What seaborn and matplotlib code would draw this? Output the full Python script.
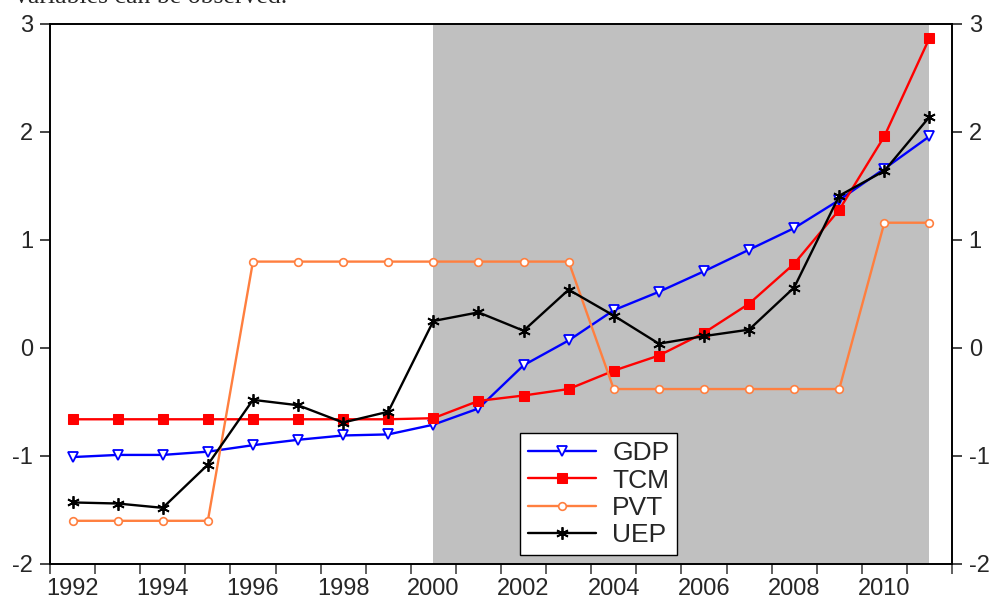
import pandas as pd
import seaborn as sns
import matplotlib.pyplot as plt
from matplotlib.ticker import FixedLocator

# Standardised series, annual 1992-2011
years = list(range(1992, 2012))
gdp = [-1.01, -0.99, -0.99, -0.96, -0.90, -0.85, -0.81, -0.80, -0.71, -0.56,
       -0.16, 0.07, 0.35, 0.52, 0.71, 0.91, 1.11, 1.37, 1.66, 1.96]
tcm = [-0.66, -0.66, -0.66, -0.66, -0.66, -0.66, -0.66, -0.66, -0.65, -0.49,
       -0.44, -0.38, -0.21, -0.07, 0.14, 0.41, 0.78, 1.28, 1.96, 2.87]
pvt = [-1.60, -1.60, -1.60, -1.60, 0.80, 0.80, 0.80, 0.80, 0.80, 0.80,
       0.80, 0.80, -0.38, -0.38, -0.38, -0.38, -0.38, -0.38, 1.16, 1.16]
uep = [-1.43, -1.44, -1.48, -1.08, -0.48, -0.53, -0.69, -0.59, 0.25, 0.33,
       0.16, 0.54, 0.30, 0.04, 0.11, 0.17, 0.56, 1.41, 1.64, 2.14]

shade_start, shade_end = 2000, 2011
x_tick_labels = list(range(1992, 2011, 2))
y_ticks = [-2, -1, 0, 1, 2, 3]

sns.set_style("ticks")
plt.rcParams['font.family'] = ['Liberation Sans', 'DejaVu Sans']
plt.rcParams['axes.unicode_minus'] = False

df = pd.DataFrame({"year": years, "GDP": gdp, "TCM": tcm, "PVT": pvt, "UEP": uep})

# line styles per series (EViews look)
styles = {
    "GDP": dict(color="#0000FF", marker="v", markersize=7.5, markerfacecolor="white",
                markeredgecolor="#0000FF", markeredgewidth=1.3),
    "TCM": dict(color="#FF0000", marker="s", markersize=7, markerfacecolor="#FF0000",
                markeredgecolor="#FF0000"),
    "PVT": dict(color="#FF7F3F", marker="o", markersize=5.5, markerfacecolor="white",
                markeredgecolor="#FF7F3F", markeredgewidth=1.2),
    "UEP": dict(color="black", marker=(6, 2, 0), markersize=9, markeredgecolor="black",
                markeredgewidth=1.3),
}

fig = plt.figure(figsize=(9.91, 6.01), dpi=100)
ax = fig.add_axes([50 / 991, 37 / 601, 902 / 991, 540 / 601])

ax.axvspan(shade_start, shade_end, color="#C0C0C0", lw=0, zorder=0)

for name in ["GDP", "TCM", "PVT", "UEP"]:
    sns.lineplot(data=df, x="year", y=name, ax=ax, label=name, linewidth=1.7, **styles[name])

ax.set_xlim(1991.5, 2011.5)
ax.set_ylim(-2, 3)
ax.set_xlabel("")
ax.set_ylabel("")

ax.xaxis.set_major_locator(FixedLocator(x_tick_labels))
ax.set_xticklabels([str(y) for y in x_tick_labels])
ax.xaxis.set_minor_locator(FixedLocator([y + 0.5 for y in range(1991, 2012)]))
ax.set_yticks(y_ticks)
ax.set_yticklabels([str(v) for v in y_ticks])

ax.tick_params(axis="x", which="major", length=0, pad=10, labelsize=17)
ax.tick_params(axis="x", which="minor", length=7, width=1.2, color="#444444", direction="out")
ax.tick_params(axis="y", which="major", length=7, width=1.2, direction="out",
               left=True, right=True, labelleft=True, labelright=True, labelsize=17, pad=5)

for side in ["top", "bottom", "left", "right"]:
    ax.spines[side].set_visible(True)
    ax.spines[side].set_linewidth(1.4)
    ax.spines[side].set_color("black")

leg = ax.legend(loc="lower left", bbox_to_anchor=(0.521, 0.017), borderaxespad=0,
                frameon=True, fancybox=False, fontsize=19, handlelength=2.6,
                labelspacing=0.12, borderpad=0.3, handletextpad=0.6)
leg.get_frame().set_edgecolor("black")
leg.get_frame().set_linewidth(1.0)
leg.get_frame().set_facecolor("white")
leg.get_frame().set_alpha(1)

# cropped caption fragment from the source page
fig.text(15 / 991, 1 - 3 / 601, "variables can be observed.", family="Liberation Serif",
         fontsize=18.5, va="baseline", ha="left")

fig.savefig("out.png", dpi=100)
